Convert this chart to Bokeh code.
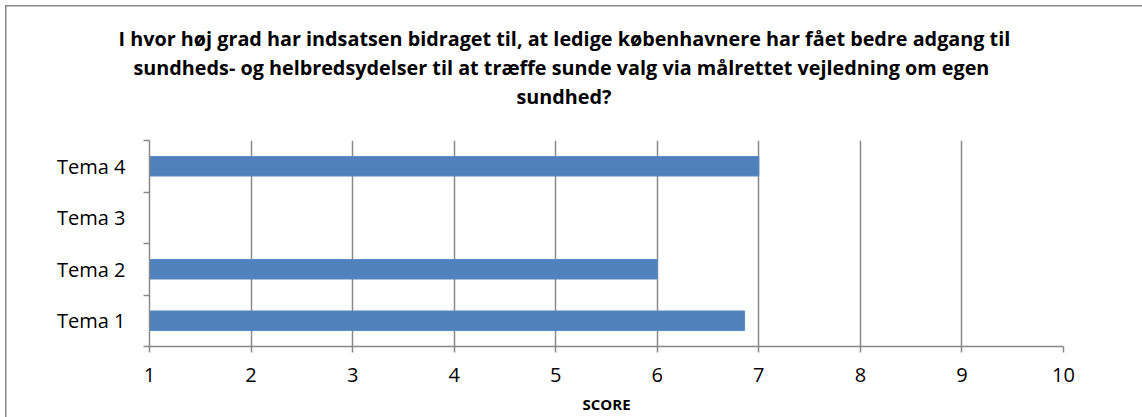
from bokeh.plotting import figure
from bokeh.models import FixedTicker, Title, Range1d, ColumnDataSource
from bokeh.embed import file_html
from bokeh.resources import INLINE

# ---- data ----
categories = ["Tema 1", "Tema 2", "Tema 3", "Tema 4"]
scores = [6.86, 6.0, None, 7.0]
x_ticks = [1, 2, 3, 4, 5, 6, 7, 8, 9, 10]
title_lines = [
    "I hvor høj grad har indsatsen bidraget til, at ledige københavnere har fået bedre adgang til",
    "sundheds- og helbredsydelser til at træffe sunde valg via målrettet vejledning om egen",
    "sundhed?",
]
x_label = "SCORE"

FONT = "Open Sans"
GRAY = "#898989"
W, H = 1142, 417

ys = [i + 0.5 for i, s in enumerate(scores) if s is not None]
vals = [s for s in scores if s is not None]
src = ColumnDataSource(dict(y=ys, right=vals))

border_css = ("linear-gradient(#898989,#898989) 5px 5px / 1.5px 100% no-repeat, "
              "linear-gradient(#898989,#898989) 5px 5px / 100% 1.5px no-repeat, white")

p = figure(width=W, height=H, output_backend="svg", toolbar_location=None, title=None,
           x_range=Range1d(x_ticks[0], x_ticks[-1]),
           y_range=Range1d(0, len(categories)),
           min_border_left=149, min_border_right=79,
           min_border_top=140, min_border_bottom=71,
           styles={"background": border_css})
p.outline_line_color = None
p.background_fill_color = "white"
p.border_fill_color = None

p.hbar(y="y", left=x_ticks[0], right="right", height=0.38, source=src,
       fill_color="#4F81BD", line_color="#5B8BC4", line_width=1)

# x axis
xa = p.xaxis[0]
xa.ticker = FixedTicker(ticks=x_ticks)
xa.axis_line_color = GRAY
xa.axis_line_width = 1.5
xa.major_tick_line_color = GRAY
xa.major_tick_line_width = 1.5
xa.major_tick_out = 6
xa.major_tick_in = 0
xa.minor_tick_line_color = None
xa.major_label_text_font = FONT
xa.major_label_text_font_size = "20px"
xa.major_label_text_color = "#000000"
xa.major_label_standoff = 15
xa.axis_label = x_label
xa.axis_label_text_font = FONT
xa.axis_label_text_font_size = "15px"
xa.axis_label_text_font_style = "bold"
xa.axis_label_text_color = "#000000"
xa.axis_label_standoff = 9

# y axis
ya = p.yaxis[0]
ya.ticker = FixedTicker(ticks=[i + 0.5 for i in range(len(categories))],
                        minor_ticks=list(range(len(categories) + 1)))
ya.major_label_overrides = {i + 0.5: c for i, c in enumerate(categories)}
ya.axis_line_color = GRAY
ya.axis_line_width = 1.5
ya.major_tick_line_color = None
ya.major_tick_out = 0
ya.major_tick_in = 0
ya.minor_tick_line_color = GRAY
ya.minor_tick_line_width = 1.5
ya.minor_tick_out = 6
ya.minor_tick_in = 0
ya.major_label_text_font = FONT
ya.major_label_text_font_size = "20px"
ya.major_label_text_color = "#000000"
ya.major_label_standoff = 18

p.xgrid.ticker = FixedTicker(ticks=x_ticks)
p.xgrid.grid_line_color = GRAY
p.xgrid.grid_line_width = 1.5
p.ygrid.grid_line_color = None

# title lines: innermost (closest to plot) first
offsets = [-31, -16, 367]
title_style = dict(align="left", standoff=0, text_font=FONT, text_font_size="19.8px",
                   text_font_style="bold", text_color="#000000")
items = list(zip(title_lines, offsets))
last_text, last_off = items[-1]
try:
    t_last = Title(text=last_text, offset=last_off,
                   padding=dict(left=0, right=0, top=0, bottom=31), **title_style)
except Exception:
    t_last = Title(text=last_text + "\n", offset=last_off, **title_style)
p.add_layout(t_last, "above")
for t, off in reversed(items[:-1]):
    p.add_layout(Title(text=t, offset=off, **title_style), "above")

open("out.html", "w").write(file_html(p, INLINE))
